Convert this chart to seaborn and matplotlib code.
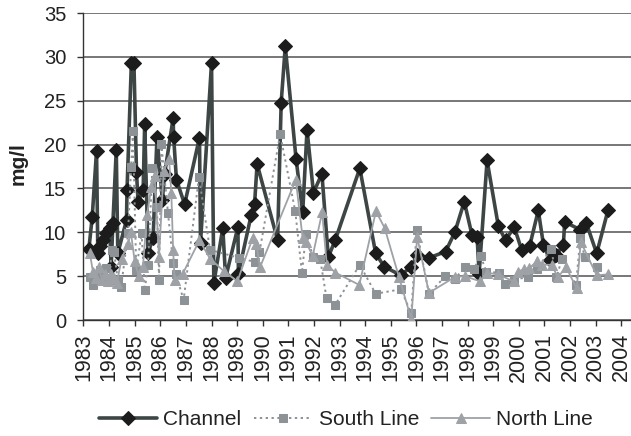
import matplotlib
matplotlib.use("Agg")
import matplotlib.pyplot as plt
import seaborn as sns
import pandas as pd

# Sampling dates (decimal years) and concentrations (mg/l) for each station
channel_year = [1983.21, 1983.34, 1983.51, 1983.56, 1983.64, 1983.76, 1983.89, 1984.02,
                1984.08, 1984.15, 1984.28, 1984.34, 1984.68, 1984.70, 1984.87, 1984.97,
                1985.07, 1985.13, 1985.33, 1985.39, 1985.52, 1985.72, 1985.87, 1986.08,
                1986.17, 1986.50, 1986.52, 1986.63, 1986.95, 1987.53, 1987.57, 1988.00,
                1988.09, 1988.44, 1988.55, 1989.03, 1989.05, 1989.55, 1989.68, 1989.78,
                1990.58, 1990.72, 1990.88, 1991.30, 1991.56, 1991.73, 1991.98, 1992.31,
                1992.56, 1992.83, 1993.79, 1994.41, 1994.74, 1995.39, 1995.80, 1996.03,
                1996.50, 1997.14, 1997.50, 1997.87, 1998.17, 1998.37, 1998.45, 1998.76,
                1999.20, 1999.48, 1999.82, 2000.11, 2000.42, 2000.76, 2000.96, 2001.22,
                2001.46, 2001.74, 2001.79, 2002.39, 2002.63, 2003.04, 2003.48]
channel_mgl = [8.1, 11.7, 19.3, 7.6, 8.4, 9.1, 9.9, 10.5,
               6.1, 11.1, 19.4, 7.6, 11.4, 14.8, 29.3, 29.3,
               16.9, 13.5, 14.8, 22.4, 7.6, 9.4, 20.9, 13.7,
               16.7, 23.0, 20.9, 16.0, 13.2, 20.8, 8.8, 29.3,
               4.2, 10.5, 4.8, 10.6, 5.3, 12.0, 13.2, 17.8,
               9.1, 24.8, 31.2, 18.4, 12.3, 21.7, 14.5, 16.7,
               7.2, 9.1, 17.3, 7.6, 6.1, 5.1, 6.1, 7.4,
               7.1, 7.8, 10.0, 13.5, 9.7, 9.5, 5.3, 18.2,
               10.7, 9.1, 10.6, 8.0, 8.4, 12.5, 8.6, 6.8,
               7.4, 8.6, 11.2, 10.3, 11.1, 7.6, 12.5]

south_year = [1983.24, 1983.37, 1983.50, 1983.63, 1983.76, 1983.88, 1984.02, 1984.10,
              1984.19, 1984.34, 1984.47, 1984.74, 1984.86, 1984.93, 1985.06, 1985.27,
              1985.39, 1985.52, 1985.69, 1985.87, 1985.95, 1986.04, 1986.30, 1986.50,
              1986.60, 1986.91, 1987.51, 1987.94, 1989.07, 1989.71, 1989.87, 1990.68,
              1991.27, 1991.53, 1991.69, 1991.97, 1992.24, 1992.49, 1992.82, 1993.79,
              1994.41, 1995.39, 1995.80, 1996.01, 1996.49, 1997.13, 1997.50, 1997.89,
              1998.24, 1998.51, 1998.73, 1999.21, 1999.47, 1999.80, 2000.37, 2000.70,
              2001.26, 2001.47, 2001.69, 2002.23, 2002.40, 2002.57, 2003.04]
south_mgl = [4.9, 4.0, 5.3, 5.7, 5.0, 5.9, 4.6, 8.0,
             7.8, 4.6, 3.8, 9.9, 17.5, 21.6, 5.7, 9.9,
             3.4, 6.3, 17.3, 12.9, 4.6, 20.1, 12.2, 6.5,
             5.3, 2.3, 16.3, 8.0, 7.1, 6.6, 7.7, 21.2,
             12.4, 5.4, 9.8, 7.2, 7.0, 2.5, 1.7, 6.3,
             3.0, 3.5, 0.8, 10.3, 3.0, 5.0, 4.7, 6.0,
             5.8, 7.3, 5.5, 5.4, 4.1, 4.6, 4.9, 5.8,
             8.1, 4.9, 7.0, 4.0, 9.3, 7.2, 6.0]

north_year = [1983.25, 1983.37, 1983.49, 1983.60, 1983.72, 1983.84, 1983.95, 1984.07,
              1984.19, 1984.30, 1984.49, 1984.74, 1984.85, 1985.00, 1985.16, 1985.32,
              1985.48, 1985.65, 1985.78, 1985.95, 1986.13, 1986.34, 1986.43, 1986.50,
              1986.56, 1986.88, 1987.53, 1987.94, 1988.47, 1989.01, 1989.61, 1989.75,
              1989.89, 1991.29, 1991.56, 1991.69, 1991.95, 1992.32, 1992.50, 1992.84,
              1993.77, 1994.42, 1994.76, 1995.32, 1995.80, 1996.03, 1996.49, 1997.50,
              1997.89, 1998.50, 1998.74, 1999.19, 1999.80, 1999.96, 2000.19, 2000.41,
              2000.70, 2000.90, 2001.28, 2001.52, 2001.85, 2002.26, 2002.42, 2003.04,
              2003.47]
north_mgl = [7.6, 5.5, 4.8, 6.0, 4.6, 5.3, 4.4, 5.2,
             4.8, 4.2, 7.0, 8.7, 10.0, 6.7, 5.0, 6.0,
             12.0, 15.2, 16.4, 7.2, 17.0, 18.4, 14.5, 8.0,
             4.6, 5.3, 9.1, 7.0, 5.6, 4.4, 9.4, 8.7,
             6.0, 16.0, 9.3, 8.9, 7.3, 12.3, 6.3, 5.4,
             4.0, 12.4, 10.5, 4.9, 0.1, 9.5, 3.1, 4.9,
             5.0, 4.4, 5.4, 5.2, 4.4, 5.5, 5.8, 5.9,
             6.7, 6.3, 6.3, 4.9, 6.0, 3.6, 8.9, 5.1,
             5.2]

series_names = ["Channel", "South Line", "North Line"]
year_ticks = list(range(1983, 2005))
value_ticks = [0, 5, 10, 15, 20, 25, 30, 35]

channel = pd.DataFrame({"year": channel_year, "mgl": channel_mgl})
south = pd.DataFrame({"year": south_year, "mgl": south_mgl})
north = pd.DataFrame({"year": north_year, "mgl": north_mgl})

sns.set_theme(style="white")
plt.rcParams["font.family"] = ["Liberation Sans", "DejaVu Sans"]

fig = plt.figure(figsize=(6.31, 4.36), dpi=100)
ax = fig.add_axes([0.1323, 0.266, 0.8677, 0.704])

sns.lineplot(data=channel, x="year", y="mgl", ax=ax, estimator=None, sort=False,
             color="#3d4545", linewidth=2.6, marker="D", markersize=7.2,
             markerfacecolor="#1c1c1c", markeredgecolor="#1c1c1c",
             label=series_names[0], zorder=3)
sns.lineplot(data=south, x="year", y="mgl", ax=ax, estimator=None, sort=False,
             color="#8d9297", linewidth=1.4, linestyle=(0, (1.2, 1.8)), marker="s",
             markersize=5.6, markerfacecolor="#8d9297", markeredgecolor="#8d9297",
             label=series_names[1], zorder=4)
sns.lineplot(data=north, x="year", y="mgl", ax=ax, estimator=None, sort=False,
             color="#9ea2a6", linewidth=1.3, marker="^", markersize=7,
             markerfacecolor="#9ea2a6", markeredgecolor="#9ea2a6",
             label=series_names[2], zorder=5)

ax.set_xlim(1983, 2004.38)
ax.set_ylim(0, 35)
ax.set_xticks(year_ticks)
ax.set_xticklabels([str(y) for y in year_ticks], rotation=90, fontsize=15.5)
ax.set_yticks(value_ticks)
ax.set_yticklabels([str(v) for v in value_ticks], fontsize=14.5)
ax.set_xlabel("")
ax.set_ylabel("")

ax.yaxis.grid(True, color="#6c6c6c", linewidth=1.3)
ax.xaxis.grid(False)
ax.set_axisbelow(True)
for side in ("top", "right"):
    ax.spines[side].set_visible(False)
for side in ("left", "bottom"):
    ax.spines[side].set_color("#333333")
    ax.spines[side].set_linewidth(1.0)
ax.tick_params(axis="both", direction="out", length=4.5, width=1, color="#333333",
               labelcolor="#222222")
ax.tick_params(axis="x", bottom=True, pad=5)
ax.tick_params(axis="y", left=True, pad=8)

fig.text(18 / 631, 1 - 164 / 436, "mg/l", rotation=90, fontsize=15,
         fontweight="bold", ha="center", va="center", color="#222222")

handles, labels = ax.get_legend_handles_labels()
ax.get_legend().remove()
fig.legend(handles, labels, loc="center", bbox_to_anchor=(0.548, 0.038), ncol=3,
           frameon=False, fontsize=15, handlelength=2.8, handletextpad=0.3,
           columnspacing=0.6, labelcolor="#222222")

fig.savefig("out.png", dpi=100)
